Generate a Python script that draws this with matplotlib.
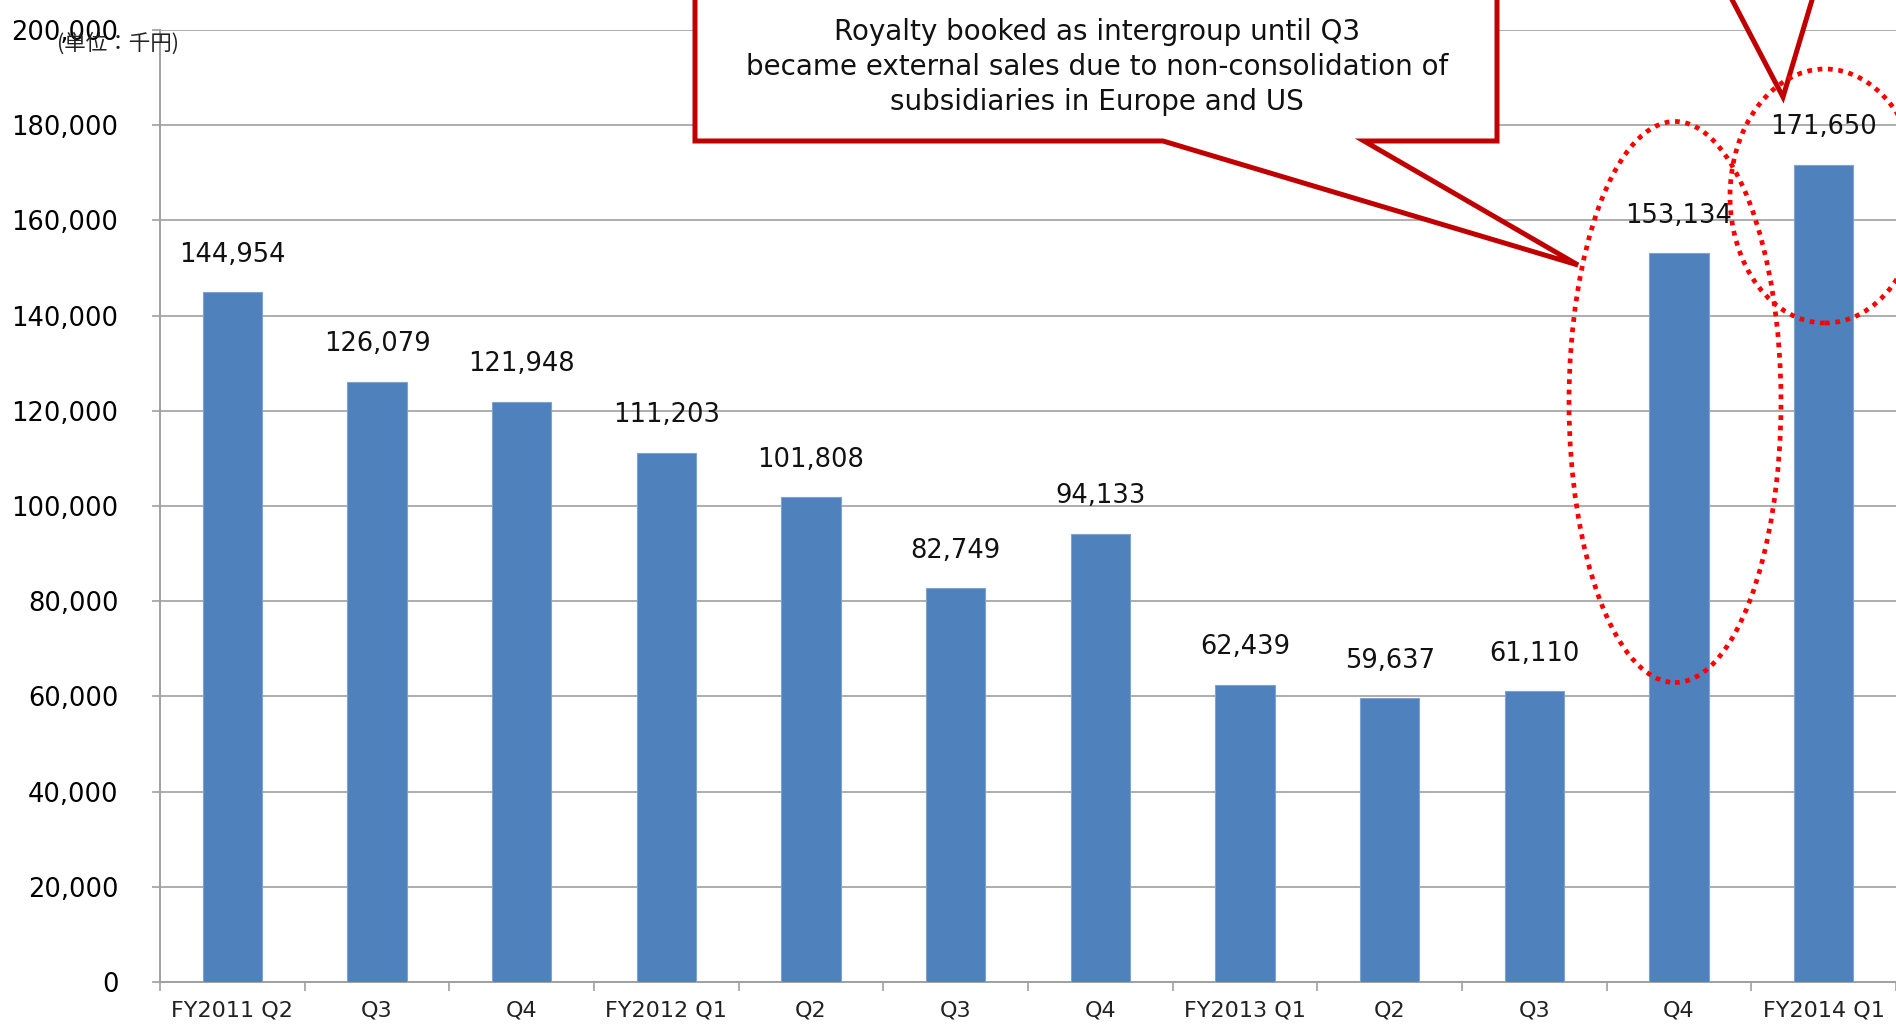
import matplotlib
matplotlib.use("Agg")
import matplotlib.pyplot as plt
from matplotlib.patches import Polygon, Ellipse
from matplotlib.transforms import ScaledTranslation
import numpy as np

categories = ["FY2011 Q2", "Q3", "Q4", "FY2012 Q1", "Q2", "Q3", "Q4",
              "FY2013 Q1", "Q2", "Q3", "Q4", "FY2014 Q1"]
values = [144954, 126079, 121948, 111203, 101808, 82749, 94133,
          62439, 59637, 61110, 153134, 171650]
y_ticks = [0, 20000, 40000, 60000, 80000, 100000, 120000, 140000,
           160000, 180000, 200000]
unit_label = "(単位：千円)"
callout_text = ("Royalty booked as intergroup until Q3\n"
                "became external sales due to non-consolidation of\n"
                "subsidiaries in Europe and US")

W, H = 1896, 1026
fig = plt.figure(figsize=(W / 100, H / 100), dpi=100)
plt.rcParams['font.family'] = ['DejaVu Sans']

ax = fig.add_axes([160 / W, 1 - 982 / H, (W - 160) / W, (982 - 30) / H])
x = np.arange(len(categories))
bars = ax.bar(x, values, width=0.41, color="#4F81BD", edgecolor="#7FA3D0",
              linewidth=0.8, zorder=3)

ax.set_xlim(-0.5, len(categories) - 0.5)
ax.set_ylim(0, 200000)
ax.set_yticks(y_ticks)
ax.set_yticklabels([f"{v:,}" for v in y_ticks], fontsize=18.5)
ax.yaxis.grid(True, color="#ADADAD", linewidth=1.4, zorder=0)
ax.set_axisbelow(True)
for lbl in ax.get_yticklabels():
    lbl.set_transform(lbl.get_transform() + ScaledTranslation(0, 3 / 72, fig.dpi_scale_trans))

ax.set_xticks(x)
ax.set_xticklabels(categories, fontsize=16, color="#222222")
ax.set_xticks(np.arange(-0.5, len(categories), 1.0), minor=True)
ax.tick_params(axis="x", which="major", length=0, pad=13)
ax.tick_params(axis="x", which="minor", length=6.5, width=1.2, color="#A0A0A0")
ax.tick_params(axis="y", length=6, width=1.2, color="#A0A0A0", pad=24)

for s in ["top", "right"]:
    ax.spines[s].set_visible(False)
for s in ["left", "bottom"]:
    ax.spines[s].set_color("#A0A0A0")
    ax.spines[s].set_linewidth(1.4)

for xi, v in zip(x, values):
    ax.annotate(f"{v:,}", xy=(xi, v), xytext=(0, 27), textcoords="offset points",
                ha="center", va="center", fontsize=18.5, color="#111111", zorder=5)

fig.text(57 / W, 1 - 44 / H, unit_label, fontsize=15.5, ha="left", va="center",
         family=["Noto Sans CJK JP", "DejaVu Sans"], color="#222222")


def P(px, py):
    return (px / W, 1 - py / H)


# Callout box with pointer
poly = Polygon([P(695, -10), P(1497, -10), P(1497, 141), P(1364, 141),
                P(1578, 265), P(1163, 141), P(695, 141)],
               closed=True, transform=fig.transFigure, facecolor="white",
               edgecolor="#C00000", linewidth=3.6, joinstyle="miter", zorder=10)
fig.patches.append(poly)
fig.text(1097 / W, 1 - 67 / H, callout_text, ha="center", va="center",
         fontsize=20, linespacing=1.3, color="#111111", zorder=11)

# Second pointer from callout above (clipped)
poly2 = Polygon([P(1727, -10), P(1783, 97), P(1815, -10)], closed=True,
                transform=fig.transFigure, facecolor="white",
                edgecolor="#C00000", linewidth=3.6, joinstyle="miter", zorder=10)
fig.patches.append(poly2)

# Dotted ellipses
for cx, cy, w, h in [(1675, 402, 212, 561), (1825, 196, 190, 254)]:
    e = Ellipse(P(cx, cy), w / W, h / H, transform=fig.transFigure,
                fill=False, edgecolor="#FF0000", linewidth=3.4,
                linestyle=(0, (1, 1.2)), zorder=12)
    fig.patches.append(e)

fig.savefig("out.png", dpi=100)
